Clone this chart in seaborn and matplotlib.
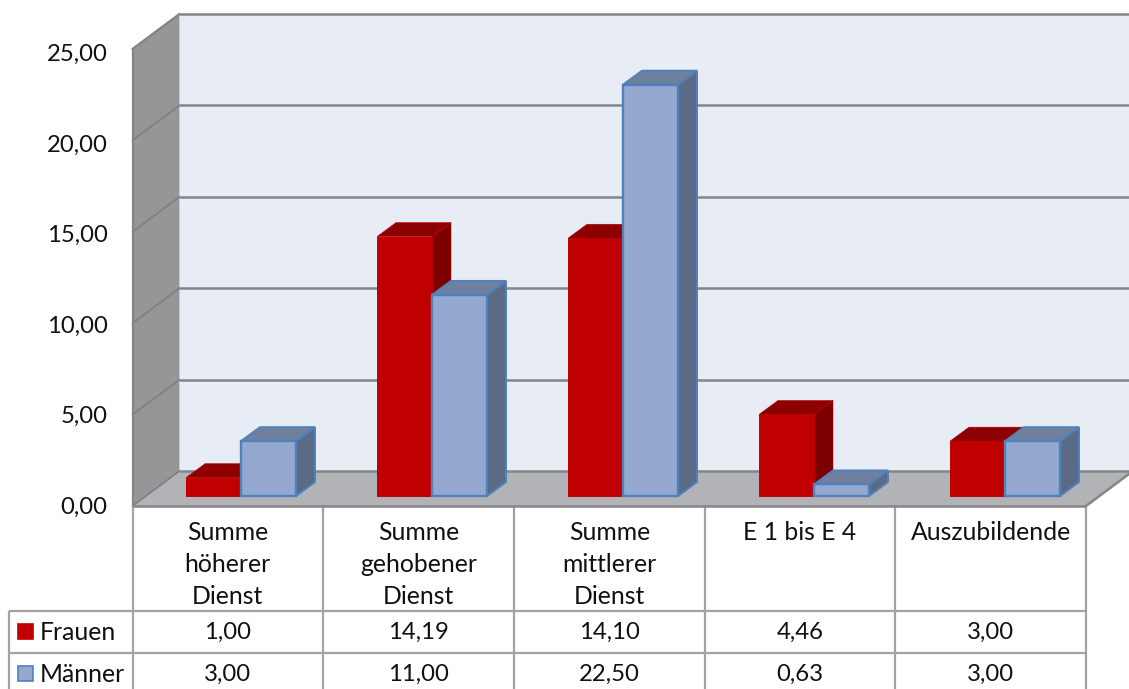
import matplotlib
matplotlib.use("Agg")
import matplotlib.pyplot as plt
import pandas as pd
import seaborn as sns
from matplotlib.patches import Polygon, Rectangle
from matplotlib.transforms import IdentityTransform

categories = ["Summe\nhöherer\nDienst", "Summe\ngehobener\nDienst",
              "Summe\nmittlerer\nDienst", "E 1 bis E 4", "Auszubildende"]
frauen = [1.00, 14.19, 14.10, 4.46, 3.00]
maenner = [3.00, 11.00, 22.50, 0.63, 3.00]
series_names = ["Frauen", "Männer"]
y_ticks = [0, 5, 10, 15, 20, 25]

W, H = 1129, 689
FONT = "Lato"
FS_NUM = 17.2
FS_TXT = 17.8
TEXT = "#111111"

# colours per series: front, top, side, edge
STYLE = {
    "Frauen": ("#C00000", "#8C0000", "#7C0000", "#C00000"),
    "Männer": ("#95A9D0", "#6F7F9E", "#5C6B85", "#4F81BD"),
}
WALL, SIDE_WALL, FLOOR = "#E8ECF5", "#959698", "#B1B3B6"
GRID, RULE = "#858585", "#A3A3A3"

sns.set_theme(style="white")
plt.rcParams["font.family"] = [FONT, "DejaVu Sans"]

fig = plt.figure(figsize=(W / 100, H / 100), dpi=100)
fig.patch.set_facecolor("white")


def px_axes(left, top, right, bottom, **kw):
    return fig.add_axes([left / W, 1 - bottom / H, (right - left) / W, (bottom - top) / H], **kw)


# Room: back wall, side wall, floor and gridlines, laid out in pixel units
bg = px_axes(0, 0, W, H, zorder=0)
bg.set_xlim(0, W)
bg.set_ylim(H, 0)
bg.axis("off")

FX0, FX1 = 132.5, 1086
FY0, FY25 = 506, 49
DX, DY = 47, -35
bg.add_patch(Polygon([(FX0 + DX, FY25 + DY), (W + 10, FY25 + DY), (W + 10, FY0 + DY), (FX0 + DX, FY0 + DY)],
                     fc=WALL, ec="none"))
bg.add_patch(Polygon([(FX0, FY25), (FX0 + DX, FY25 + DY), (FX0 + DX, FY0 + DY), (FX0, FY0)],
                     fc=SIDE_WALL, ec="none"))
bg.add_patch(Polygon([(FX0, FY0), (FX0 + DX, FY0 + DY), (FX1 + DX, FY0 + DY), (FX1, FY0)],
                     fc=FLOOR, ec="none"))
step = (FY0 - FY25) / max(y_ticks)
for t in y_ticks:
    y = FY0 - t * step
    bg.plot([FX0, FX0 + DX], [y, y + DY], color="#7F7F7F", lw=1.2)
    bg.plot([FX0 + DX, W + 10], [y + DY, y + DY], color=GRID, lw=1.8)
bg.plot([FX0, FX0 + DX], [FY25, FY25 + DY], color=GRID, lw=1.6)
bg.plot([FX0, FX0], [FY25, FY0], color=GRID, lw=1.6)
bg.plot([FX1, FX1 + DX], [FY0, FY0 + DY], color=GRID, lw=1.8)

# Value axis labels
lab = px_axes(FX0, 52.5, FX1, 505, zorder=1)
lab.patch.set_alpha(0)
lab.set_ylim(0, 25)
lab.set_xticks([])
lab.set_yticks(y_ticks)
lab.set_yticklabels([f"{t:.2f}".replace(".", ",") for t in y_ticks], fontsize=FS_NUM, color=TEXT, family=FONT)
lab.tick_params(axis="y", length=0, pad=18)
sns.despine(ax=lab, left=True, bottom=True)

# Bars
BAR_BOTTOM, UNIT, CAT = 496, 18.28, 191
ax = px_axes(145.5, BAR_BOTTOM - 25 * UNIT, 145.5 + 5 * CAT, BAR_BOTTOM, zorder=2)
ax.patch.set_alpha(0)
df = pd.DataFrame({
    "Gruppe": categories * 2,
    "Wert": frauen + maenner,
    "Geschlecht": [series_names[0]] * len(frauen) + [series_names[1]] * len(maenner),
})
sns.barplot(data=df, x="Gruppe", y="Wert", hue="Geschlecht", hue_order=series_names,
            palette={k: v[0] for k, v in STYLE.items()}, width=0.576, gap=0, dodge=True,
            saturation=1, legend=False, ax=ax)
ax.set_xlim(-0.5, len(categories) - 0.5)
ax.set_ylim(0, 25)
ax.axis("off")
fig.canvas.draw()

# Extrude each bar: side and top faces in display units
DEPTH_X, DEPTH_Y = 19, 14
bars = [(p, series_names[0] if i < len(frauen) else series_names[1])
        for i, p in enumerate(b for b in ax.patches if b.get_height() > 0)]
bars.sort(key=lambda b: b[0].get_x())
for i, (p, name) in enumerate(bars):
    front, top_c, side_c, edge = STYLE[name]
    x0, x1 = p.get_x(), p.get_x() + p.get_width()
    (ax0, ay0), (ax1, ay1) = ax.transData.transform([(x0, 0), (x1, p.get_height())])
    lw = 1.4 if name == "Männer" else 0.4
    z = 3 + i * 2
    side = [(ax1, ay0), (ax1, ay1), (ax1 + DEPTH_X, ay1 + DEPTH_Y), (ax1 + DEPTH_X, ay0 + DEPTH_Y)]
    top = [(ax0, ay1), (ax1, ay1), (ax1 + DEPTH_X, ay1 + DEPTH_Y), (ax0 + DEPTH_X, ay1 + DEPTH_Y)]
    for verts, colour in ((side, side_c), (top, top_c)):
        ax.add_patch(Polygon(verts, closed=True, fc=colour, ec=edge, lw=lw, joinstyle="miter",
                             transform=IdentityTransform(), clip_on=False, zorder=z))
    p.set_edgecolor(edge)
    p.set_linewidth(lw + 0.3)
    p.set_joinstyle("miter")
    p.set_clip_on(False)
    p.set_zorder(z + 1)

# Data table beneath the chart
tb = px_axes(0, 0, W, H, zorder=5)
tb.patch.set_alpha(0)
tb.set_xlim(0, W)
tb.set_ylim(H, 0)
tb.axis("off")

col_edges = [FX0 + i * (FX1 - FX0) / len(categories) for i in range(len(categories) + 1)]
ROW_TOPS = [611, 652.5]
ROW_TEXT = [632, 674]
HEAD_LINES = [532, 564, 596]
LEFT = 8.5

for x in col_edges:
    tb.plot([x, x], [FY0, H + 2], color=RULE, lw=1.6, solid_capstyle="butt")
tb.plot([LEFT, LEFT], [ROW_TOPS[0], H + 2], color=RULE, lw=1.6, solid_capstyle="butt")
tb.plot([FX0, FX1], [FY0, FY0], color=GRID, lw=1.8, solid_capstyle="butt")
for y in ROW_TOPS:
    tb.plot([LEFT, FX1], [y, y], color=RULE, lw=1.6, solid_capstyle="butt")

for i, cat in enumerate(categories):
    xc = (col_edges[i] + col_edges[i + 1]) / 2
    for y, line in zip(HEAD_LINES, cat.split("\n")):
        tb.text(xc, y, line, ha="center", va="center", fontsize=FS_TXT, color=TEXT, family=FONT)
    for y, vals in zip(ROW_TEXT, (frauen, maenner)):
        tb.text(xc, y, f"{vals[i]:.2f}".replace(".", ","), ha="center", va="center",
                fontsize=FS_NUM, color=TEXT, family=FONT)

for y, name in zip(ROW_TEXT, series_names):
    front, _, _, edge = STYLE[name]
    tb.add_patch(Rectangle((17.5, y - 8.5), 15, 15, fc=front, ec=edge, lw=1.2))
    tb.text(40, y, name, ha="left", va="center", fontsize=FS_TXT, color=TEXT, family=FONT)

fig.savefig("out.png", dpi=100)
